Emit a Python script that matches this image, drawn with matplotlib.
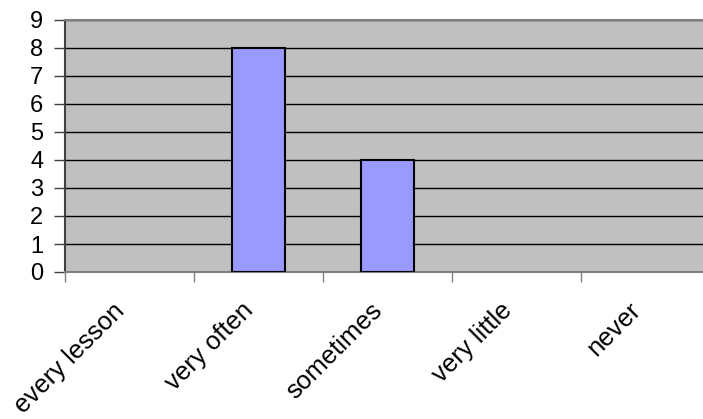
import matplotlib.pyplot as plt
import matplotlib.transforms as mtransforms
import numpy as np

categories = ["every lesson", "very often", "sometimes", "very little", "never"]
counts = [0, 8, 4, 0, 0]
y_ticks = list(range(0, 10))

plt.rcParams['font.family'] = ['Liberation Sans', 'DejaVu Sans']

fig = plt.figure(figsize=(7.03, 4.19), dpi=100)
# plot area runs slightly past the right edge of the figure
ax = fig.add_axes([65 / 703, 147 / 419, 645 / 703, 252 / 419])
ax.set_facecolor('#C0C0C0')

x = np.arange(len(categories))
# empty categories get no outline
edge_widths = [1.5 if c > 0 else 0 for c in counts]
ax.bar(x, counts, width=0.41, color='#9999FF', edgecolor='black',
       linewidth=edge_widths, zorder=3)

ax.set_xlim(-0.5, len(categories) - 0.5)
ax.set_ylim(0, 9)
ax.set_yticks(y_ticks)
ax.tick_params(axis='y', labelsize=17, length=8, width=1, color='#404040', pad=7.5)

# category labels at the centres, tick marks on the boundaries
ax.set_xticks(x)
ax.set_xticklabels(categories, rotation=45, ha='right', va='top', rotation_mode='anchor')
ax.tick_params(axis='x', which='major', length=0, labelsize=18.5, pad=19)
shift = mtransforms.ScaledTranslation(-17 / 100, 0, fig.dpi_scale_trans)
for lbl in ax.get_xticklabels():
    lbl.set_transform(lbl.get_transform() + shift)
ax.set_xticks(np.arange(-0.5, len(categories)), minor=True)
ax.tick_params(axis='x', which='minor', length=7, width=1, color='#808080')

ax.yaxis.grid(True, color='black', linewidth=1)
ax.set_axisbelow(True)

ax.spines['left'].set_color('#404040')
ax.spines['left'].set_linewidth(1.5)
ax.spines['bottom'].set_color('#808080')
ax.spines['bottom'].set_linewidth(1.5)
ax.spines['top'].set_color('#808080')
ax.spines['top'].set_linewidth(1.5)
ax.spines['right'].set_visible(False)

fig.savefig('out.png', dpi=100)
